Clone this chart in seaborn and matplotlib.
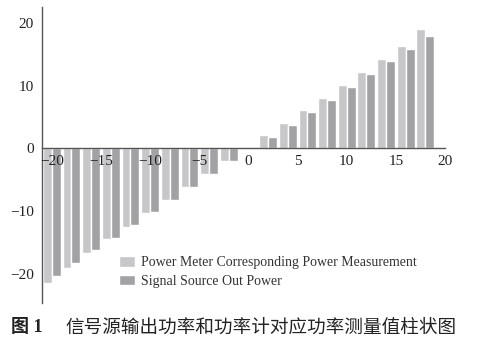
import pandas as pd
import matplotlib.pyplot as plt
import seaborn as sns

# signal source set levels (dBm)
levels = [-20, -18, -16, -14, -12, -10, -8, -6, -4, -2,
          2, 4, 6, 8, 10, 12, 14, 16, 18]
meter_power = [-21.4, -19.0, -16.6, -14.5, -12.5, -10.3, -8.2, -6.1, -4.15, -2.0,
               2.1, 4.1, 6.1, 8.1, 10.2, 12.2, 14.3, 16.3, 19.0]
source_power = [-20.3, -18.2, -16.2, -14.3, -12.2, -10.1, -8.2, -6.1, -4.1, -2.0,
                1.9, 3.8, 5.8, 7.8, 9.8, 11.9, 13.9, 15.8, 17.9]
series_names = ["Power Meter Corresponding Power Measurement",
                "Signal Source Out Power"]
colors = ["#c7c7ca", "#a2a2a5"]

df = pd.DataFrame({
    "level": levels * 2,
    "power": meter_power + source_power,
    "series": [series_names[0]] * len(levels) + [series_names[1]] * len(levels),
})

sns.set_style("white")
plt.rcParams["font.family"] = ["Liberation Serif", "Noto Sans CJK SC"]
plt.rcParams["axes.unicode_minus"] = True

fig = plt.figure(figsize=(4.9, 3.54), dpi=100)
ax = fig.add_axes([0.0857, 0.145, 0.8224, 0.834])

sns.barplot(
    data=df,
    x="level",
    y="power",
    hue="series",
    hue_order=series_names,
    palette=colors,
    native_scale=True,
    width=0.9,
    gap=0,
    errorbar=None,
    ax=ax,
)
ax.set_axisbelow(False)

ax.set_xlim(-21, 20)
ax.set_ylim(-24.6, 22.5)
ax.set_xticks([-20, -15, -10, -5, 0, 5, 10, 15, 20])
ax.set_yticks([-20, -10, 0, 10, 20])
ax.set_xlabel("")
ax.set_ylabel("")

for s in ["top", "right"]:
    ax.spines[s].set_visible(False)
ax.spines["bottom"].set_position(("data", 0))
for s in ["left", "bottom"]:
    ax.spines[s].set_color("#555555")
    ax.spines[s].set_linewidth(1.0)

ax.tick_params(axis="both", direction="in", length=4, width=1, color="#555555",
               labelsize=11, labelcolor="#222222")
ax.tick_params(axis="x", pad=5)
ax.tick_params(axis="y", pad=6)

ax.legend(
    loc="upper left",
    bbox_to_anchor=(0.16, 0.199),
    frameon=False,
    fontsize=10,
    handlelength=1.15,
    handleheight=0.75,
    handletextpad=0.45,
    labelspacing=0.4,
    labelcolor="#333333",
)

fig.text(0.022, 0.075, "图 1", fontsize=13, fontweight="bold",
         family=["Liberation Serif", "Noto Sans CJK SC"], color="#222222", va="center")
fig.text(0.133, 0.075, "信号源输出功率和功率计对应功率测量值柱状图", fontsize=13.4,
         family=["Noto Sans CJK SC"], color="#222222", va="center")

fig.savefig("out.png", dpi=100)
